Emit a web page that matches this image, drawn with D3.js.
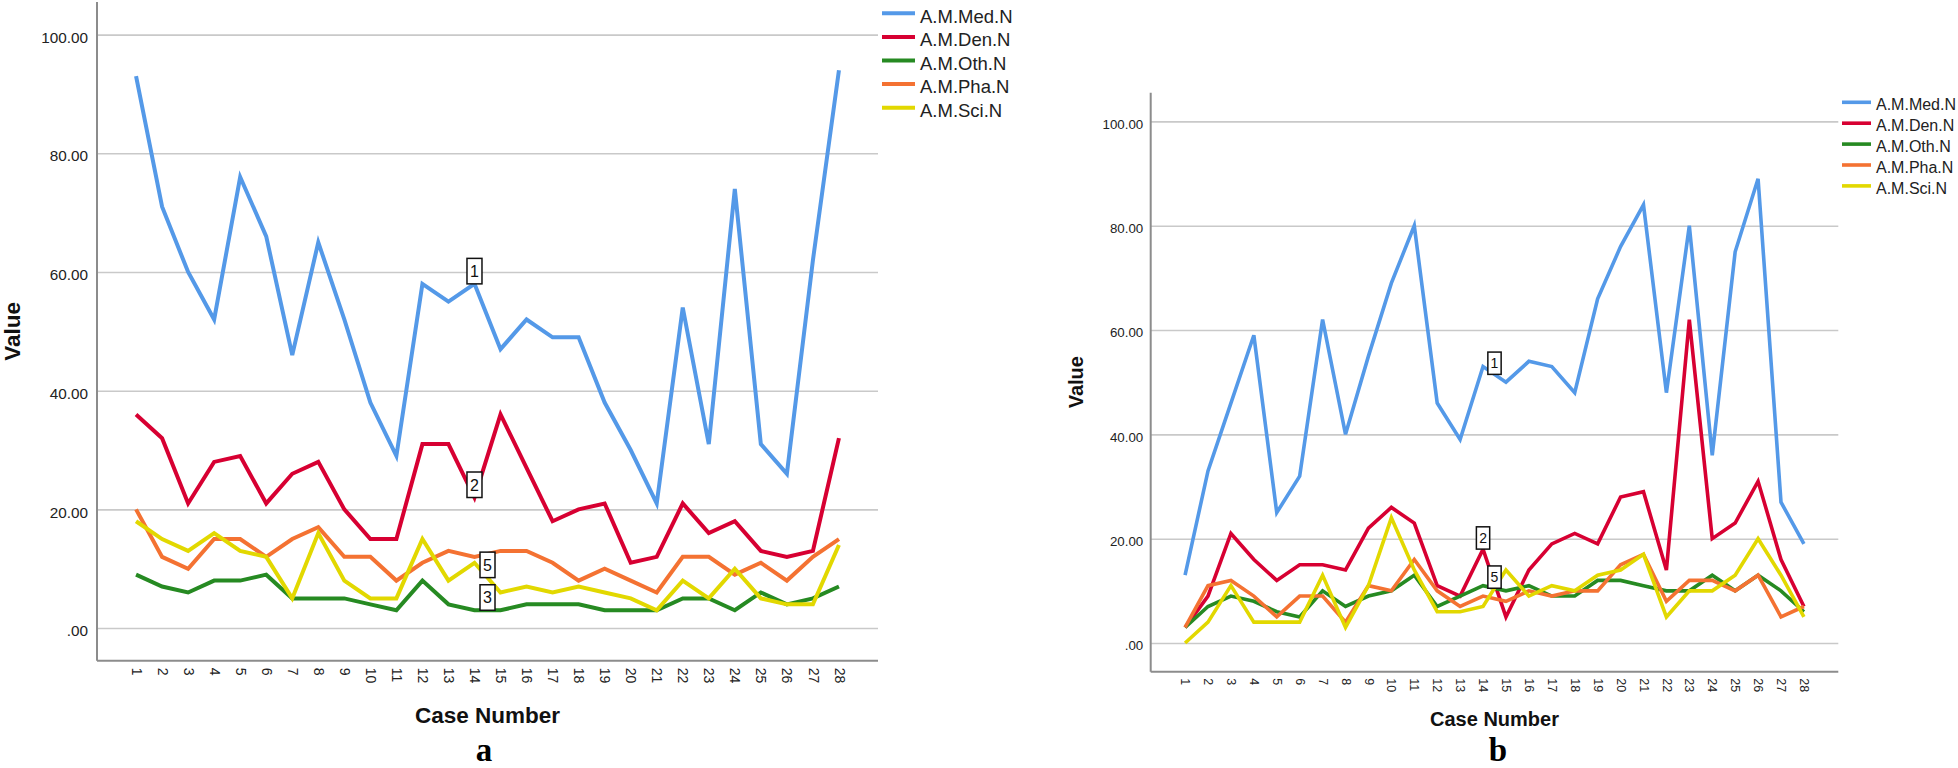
<!DOCTYPE html>
<html>
<head>
<meta charset="utf-8">
<script src="https://cdn.jsdelivr.net/npm/d3@7"></script>
<style>
  html, body { margin: 0; padding: 0; background: #fff; }
  svg { display: block; }
  text { font-family: "Liberation Sans", Arial, sans-serif; }
</style>
</head>
<body>
<svg id="chart" width="1958" height="768"></svg>
<script>
// ---------------- DATA ----------------
const cases = d3.range(1, 29);
const seriesNames = ["A.M.Med.N", "A.M.Den.N", "A.M.Oth.N", "A.M.Pha.N", "A.M.Sci.N"];
const yTicks = [0, 20, 40, 60, 80, 100];

// Panel a
const medA = [93,71,60,52,76,66,46,65,52,38,29,58,55,58,47,52,49,49,38,30,21,54,31,74,31,26,62,94];
const denA = [36,32,21,28,29,21,26,28,20,15,15,31,31,22,36,27,18,20,21,11,12,21,16,18,13,12,13,32];
const othA = [9,7,6,8,8,9,5,5,5,4,3,8,4,3,3,4,4,4,3,3,3,5,5,3,6,4,5,7];
const phaA = [20,12,10,15,15,12,15,17,12,12,8,11,13,12,13,13,11,8,10,8,6,12,12,9,11,8,12,15];
const sciA = [18,15,13,16,13,12,5,16,8,5,5,15,8,11,6,7,6,7,6,5,3,8,5,10,5,4,4,14];

// Panel b
const medB = [13,33,46,59,25,32,62,40,55,69,80,46,39,53,50,54,53,48,66,76,84,48,80,36,75,89,27,19];
const denB = [3,9,21,16,12,15,15,14,22,26,23,11,9,18,5,14,19,21,19,28,29,14,62,20,23,31,16,7];
const othB = [3,7,9,8,6,5,10,7,9,10,13,7,9,11,10,11,9,9,12,12,11,10,10,13,10,13,10,6];
const phaB = [3,11,12,9,5,9,9,4,11,10,16,10,7,9,8,10,9,10,10,15,17,8,12,12,10,13,5,7];
const sciB = [0,4,11,4,4,4,13,3,11,24,14,6,6,7,14,9,11,10,13,14,17,5,10,10,13,20,13,5];

// Line-identification labels: series index, case position along the line, text
const labelsA = [
  {series: 0, at: 14,   text: "1"},
  {series: 1, at: 14,   text: "2"},
  {series: 4, at: 14.5, text: "5"},
  {series: 2, at: 14.5, text: "3"}
];
const labelsB = [
  {series: 0, at: 14.5, text: "1"},
  {series: 1, at: 14,   text: "2"},
  {series: 4, at: 14.5, text: "5"}
];

// ---------------- STYLE ----------------
const colors = ["#5499e8", "#d70032", "#268a22", "#f47232", "#e2d800"];

const svg = d3.select("#chart");

function valueAt(arr, pos) {
  const i = Math.floor(pos), f = pos - i;
  const a = arr[i - 1], b = arr[Math.min(i, arr.length - 1)];
  return a + (b - a) * f;
}

function drawPanel(cfg, series, labels) {
  const g = svg.append("g");
  const x = d3.scaleLinear().domain([-0.5, 29.5]).range([cfg.x0, cfg.x1]);
  const y = d3.scaleLinear().domain([-5.5, 105.5]).range([cfg.yBottom, cfg.yTop]);

  // gridlines + y tick labels
  const yAxis = d3.axisLeft(y)
    .tickValues(yTicks)
    .tickSize(-(cfg.x1 - cfg.x0))
    .tickPadding(cfg.yTickPad)
    .tickFormat(v => v === 0 ? ".00" : v.toFixed(2));
  const ya = g.append("g").attr("transform", `translate(${cfg.x0},0)`).call(yAxis);
  ya.select(".domain").remove();
  ya.selectAll(".tick line").attr("stroke", "#c9c9c9").attr("stroke-width", 1.6);
  ya.selectAll(".tick text")
    .attr("font-size", cfg.yTickFont)
    .attr("fill", "#222")
    .attr("dy", "0.5em");

  // x tick labels (rotated)
  const xAxis = d3.axisBottom(x).tickValues(cases).tickSize(0).tickFormat(d3.format("d"));
  const xa = g.append("g").attr("transform", `translate(0,${cfg.yBottom})`).call(xAxis);
  xa.select(".domain").remove();
  xa.selectAll(".tick text")
    .attr("font-size", cfg.xTickFont)
    .attr("fill", "#222")
    .attr("text-anchor", "start")
    .attr("y", 0)
    .attr("dy", "0.35em")
    .attr("transform", `translate(0,${cfg.xTickGap}) rotate(90)`);

  // axis lines
  g.append("line")
    .attr("x1", cfg.x0).attr("x2", cfg.x0)
    .attr("y1", cfg.yTop).attr("y2", cfg.yBottom)
    .attr("stroke", "#8c8c8c").attr("stroke-width", 2);
  g.append("line")
    .attr("x1", cfg.x0).attr("x2", cfg.x1)
    .attr("y1", cfg.yBottom).attr("y2", cfg.yBottom)
    .attr("stroke", "#8c8c8c").attr("stroke-width", 2);

  // lines
  const line = d3.line().x((d, i) => x(cases[i])).y(d => y(d));
  series.forEach((s, k) => {
    g.append("path")
      .datum(s)
      .attr("d", line)
      .attr("fill", "none")
      .attr("stroke", colors[k])
      .attr("stroke-width", cfg.lineWidth)
      .attr("stroke-linejoin", "miter");
  });

  // line labels
  labels.forEach(l => {
    const cx = x(l.at);
    const by = y(valueAt(series[l.series], l.at));
    g.append("rect")
      .attr("x", cx - cfg.boxW / 2).attr("y", by - cfg.boxH)
      .attr("width", cfg.boxW).attr("height", cfg.boxH)
      .attr("fill", "#fff").attr("stroke", "#111").attr("stroke-width", 1.5);
    g.append("text")
      .attr("x", cx).attr("y", by - cfg.boxH / 2)
      .attr("dy", "0.36em")
      .attr("text-anchor", "middle")
      .attr("font-size", cfg.boxFont)
      .attr("fill", "#111")
      .text(l.text);
  });

  // axis titles
  g.append("text")
    .attr("x", (cfg.x0 + cfg.x1) / 2).attr("y", cfg.caseTitleY)
    .attr("text-anchor", "middle")
    .attr("font-size", cfg.titleFont).attr("font-weight", "bold")
    .attr("fill", "#111")
    .text("Case Number");
  g.append("text")
    .attr("transform", `translate(${cfg.valueX},${(cfg.yTop + cfg.yBottom) / 2}) rotate(-90)`)
    .attr("text-anchor", "middle")
    .attr("dy", "0.36em")
    .attr("font-size", cfg.titleFont).attr("font-weight", "bold")
    .attr("fill", "#111")
    .text("Value");

  // panel letter
  g.append("text")
    .attr("x", cfg.letterX).attr("y", cfg.letterY)
    .attr("text-anchor", "middle")
    .style("font-family", "'Liberation Serif', 'Times New Roman', serif")
    .attr("font-size", cfg.letterFont).attr("font-weight", "bold")
    .attr("fill", "#000")
    .text(cfg.letter);

  // legend
  const lg = g.append("g");
  seriesNames.forEach((name, k) => {
    const ry = cfg.legendY + k * cfg.legendStep;
    lg.append("line")
      .attr("x1", cfg.legendX).attr("x2", cfg.legendX + cfg.legendSwatch)
      .attr("y1", ry).attr("y2", ry)
      .attr("stroke", colors[k]).attr("stroke-width", cfg.lineWidth);
    lg.append("text")
      .attr("x", cfg.legendX + cfg.legendSwatch + cfg.legendGap)
      .attr("y", ry + cfg.legendBase)
      .attr("font-size", cfg.legendFont)
      .attr("fill", "#222")
      .text(name);
  });
}

drawPanel({
  x0: 97, x1: 878, yTop: 2, yBottom: 660.7,
  yTickFont: 15.3, yTickPad: 9, xTickFont: 14, xTickGap: 7,
  lineWidth: 4, boxW: 15, boxH: 25.5, boxFont: 16,
  titleFont: 22.5, caseTitleY: 723, valueX: 12,
  letter: "a", letterX: 484, letterY: 760.5, letterFont: 33,
  legendX: 882, legendY: 13.3, legendStep: 23.6, legendSwatch: 33, legendGap: 5,
  legendFont: 18.5, legendBase: 9.3
}, [medA, denA, othA, phaA, sciA], labelsA);

drawPanel({
  x0: 1150.7, x1: 1838.3, yTop: 92.7, yBottom: 671.7,
  yTickFont: 13.3, yTickPad: 7.5, xTickFont: 12.5, xTickGap: 6.5,
  lineWidth: 3.6, boxW: 13.3, boxH: 22.3, boxFont: 14,
  titleFont: 20, caseTitleY: 726, valueX: 1075.8,
  letter: "b", letterX: 1498, letterY: 760.5, letterFont: 33,
  legendX: 1842, legendY: 102.3, legendStep: 20.9, legendSwatch: 29, legendGap: 5,
  legendFont: 16, legendBase: 7.8
}, [medB, denB, othB, phaB, sciB], labelsB);
</script>
</body>
</html>
